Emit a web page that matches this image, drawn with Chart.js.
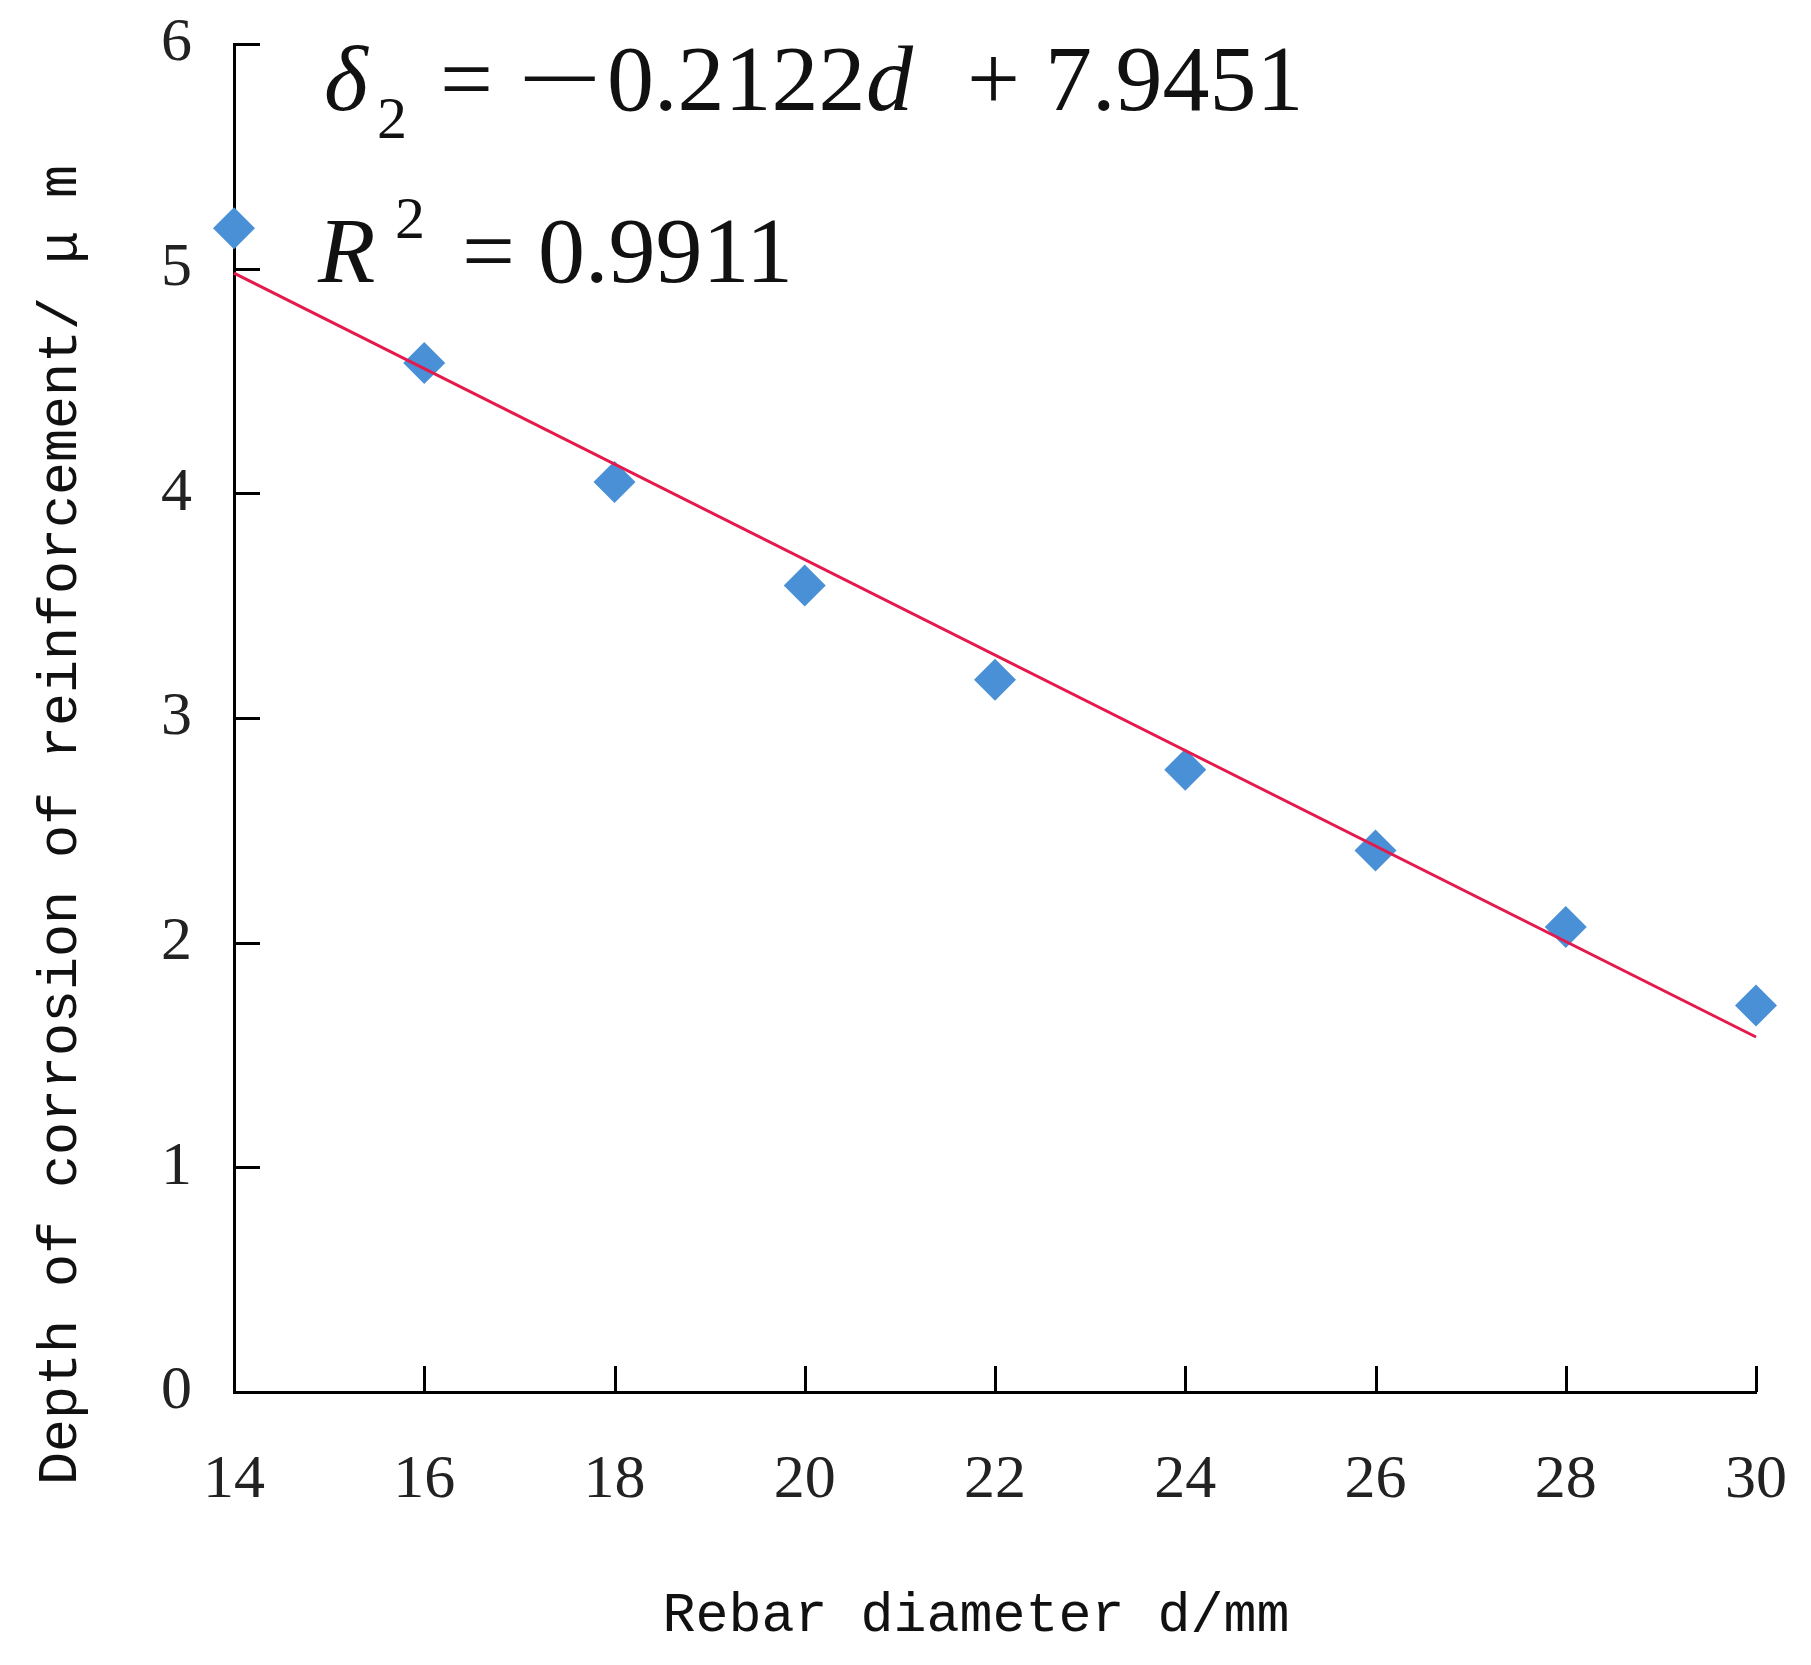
<!DOCTYPE html>
<html>
<head>
<meta charset="utf-8">
<script src="https://cdn.jsdelivr.net/npm/chart.js@4/dist/chart.umd.min.js"></script>
<style>
  html, body { margin: 0; padding: 0; background: #ffffff; }
  #wrap { width: 1811px; height: 1665px; position: relative; }
</style>
</head>
<body>
<div id="wrap"><canvas id="c" width="1811" height="1665"></canvas></div>
<script>
// ---- data ----
const diameters = [14, 16, 18, 20, 22, 24, 26, 28, 30];
const corrosionDepth = [5.18, 4.58, 4.05, 3.59, 3.17, 2.77, 2.41, 2.07, 1.72];
const trendX = [14, 30];
const trendY = [4.98, 1.58];
const xTicks = [14, 16, 18, 20, 22, 24, 26, 28, 30];
const yTicks = [0, 1, 2, 3, 4, 5, 6];
const xTitle = 'Rebar diameter d/mm';
const yTitle = 'Depth of corrosion of reinforcement/ \u03bc m';
const eqSlope = '0.2122';
const eqIntercept = '7.9451';
const eqR2 = '0.9911';

const scatterData = diameters.map((d, i) => ({ x: d, y: corrosionDepth[i] }));
const trendData = trendX.map((d, i) => ({ x: d, y: trendY[i] }));

const SERIF = '"Liberation Serif", "Times New Roman", serif';
const MONO = '"Liberation Mono", "DejaVu Sans Mono", monospace';

const decorPlugin = {
  id: 'decor',
  afterDatasetsDraw(chart) {
    const ctx = chart.ctx;
    const xs = chart.scales.x, ys = chart.scales.y;
    const area = chart.chartArea;
    ctx.save();
    // inward tick marks
    ctx.strokeStyle = '#000';
    ctx.lineWidth = 3;
    ctx.beginPath();
    xTicks.forEach(v => {
      const px = Math.round(xs.getPixelForValue(v)) + 0.5;
      ctx.moveTo(px, area.bottom);
      ctx.lineTo(px, area.bottom - 26);
    });
    yTicks.forEach(v => {
      const py = Math.round(ys.getPixelForValue(v)) + 0.5;
      ctx.moveTo(area.left, py);
      ctx.lineTo(area.left + 26, py);
    });
    ctx.stroke();

    // axis titles
    ctx.fillStyle = '#111';
    ctx.font = '55px ' + MONO;
    ctx.textAlign = 'center';
    ctx.textBaseline = 'alphabetic';
    ctx.fillText(xTitle, 976, 1631);
    ctx.save();
    ctx.translate(76, 825);
    ctx.rotate(-Math.PI / 2);
    ctx.fillText(yTitle, 0, 0);
    ctx.restore();

    // regression equation
    ctx.textAlign = 'left';
    ctx.fillStyle = '#111';
    const big = '94px ' + SERIF, bigIt = 'italic 94px ' + SERIF, small = '60px ' + SERIF;
    ctx.font = bigIt; ctx.fillText('\u03b4', 324, 110);
    ctx.font = small; ctx.fillText('2', 377, 138);
    ctx.font = big; ctx.fillText('=', 440, 110);
    ctx.save();
    ctx.translate(517, 110);
    ctx.scale(1.6, 1);
    ctx.fillText('\u2212', 0, 0);
    ctx.restore();
    ctx.font = big; ctx.fillText(eqSlope, 607, 110);
    ctx.font = bigIt; ctx.fillText('d', 866, 110);
    ctx.font = big; ctx.fillText('+', 967, 110);
    ctx.font = big; ctx.fillText(eqIntercept, 1045, 110);

    ctx.font = bigIt; ctx.fillText('R', 318, 282);
    ctx.font = small; ctx.fillText('2', 395, 238);
    ctx.font = big; ctx.fillText('=', 462, 282);
    ctx.font = big; ctx.fillText(eqR2, 538, 282);
    ctx.restore();
  }
};

new Chart(document.getElementById('c'), {
  type: 'scatter',
  data: {
    datasets: [
      {
        type: 'line',
        label: 'Trend',
        data: trendData,
        borderColor: '#E5194B',
        borderWidth: 3,
        pointRadius: 0,
        fill: false,
        clip: false,
        order: 0
      },
      {
        label: 'Depth',
        data: scatterData,
        pointStyle: 'rectRot',
        pointRadius: 21,
        pointHoverRadius: 21,
        backgroundColor: '#4A90D6',
        borderColor: '#4A90D6',
        borderWidth: 0,
        clip: false,
        order: 1
      }
    ]
  },
  plugins: [decorPlugin],
  options: {
    responsive: false,
    animation: false,
    events: [],
    layout: { padding: { left: 0, top: 44, right: 55, bottom: 0 } },
    plugins: { legend: { display: false }, tooltip: { enabled: false } },
    scales: {
      x: {
        type: 'linear',
        min: 14, max: 30,
        afterFit(scale) { scale.height = 273; scale.paddingLeft = 0; scale.paddingRight = 0; },
        afterBuildTicks(scale) { scale.ticks = xTicks.map(v => ({ value: v })); },
        grid: { display: true, drawOnChartArea: false, drawTicks: false },
        border: { display: true, color: '#000', width: 3 },
        ticks: {
          padding: 52,
          color: '#222',
          font: { family: SERIF, size: 62 },
          maxRotation: 0,
          autoSkip: false
        }
      },
      y: {
        type: 'linear',
        min: 0, max: 6,
        afterFit(scale) { scale.width = 234; scale.paddingTop = 0; scale.paddingBottom = 0; },
        afterBuildTicks(scale) { scale.ticks = yTicks.map(v => ({ value: v })); },
        grid: { display: true, drawOnChartArea: false, drawTicks: false },
        border: { display: true, color: '#000', width: 3 },
        ticks: {
          padding: 42,
          color: '#222',
          font: { family: SERIF, size: 62 },
          autoSkip: false
        }
      }
    }
  }
});
</script>
</body>
</html>
